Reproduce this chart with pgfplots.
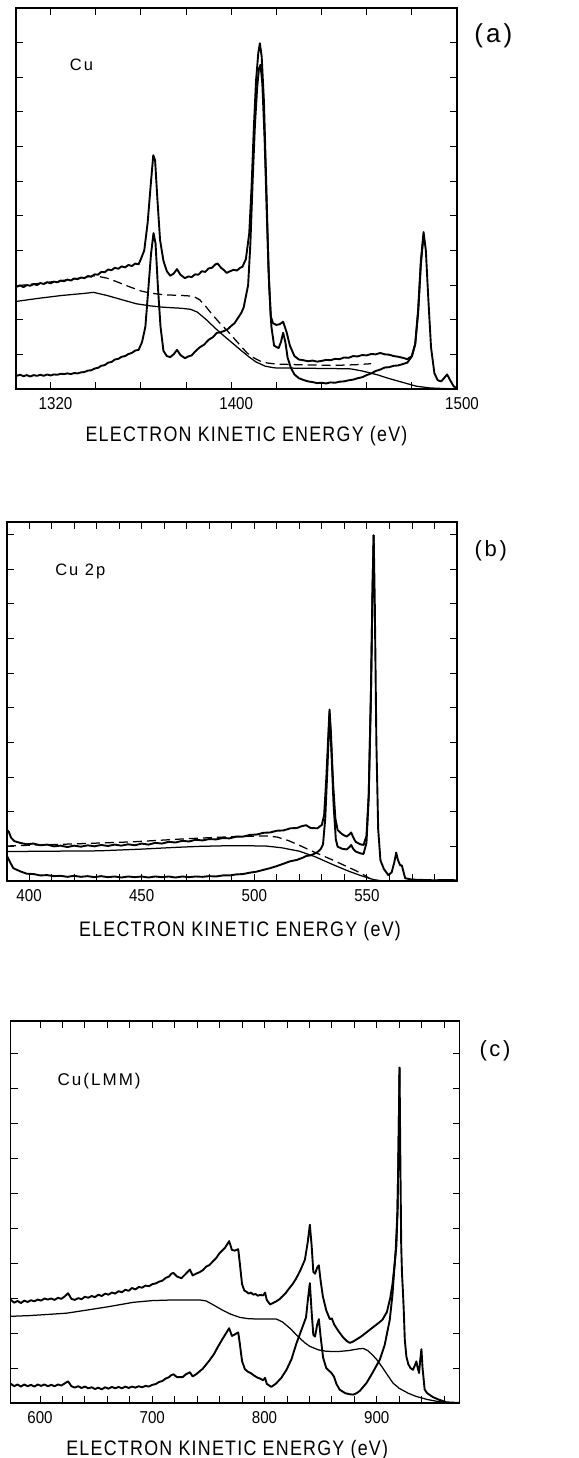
\documentclass[border=0pt]{standalone}
\usepackage{fontspec}
\setmainfont{Liberation Sans}
\newfontfamily\xlabfont[FakeStretch=0.85,LetterSpace=6]{Liberation Sans}
\newfontfamily\tickfont[FakeStretch=0.88]{Liberation Sans}
\newfontfamily\panfont[LetterSpace=12]{Liberation Sans}
\usepackage{pgfplots}
\pgfplotsset{compat=1.18}
\pgfplotsset{
  spec/.style={
    scale only axis,
    anchor=south west,
    ymin=0,
    ytick={1,2,3,4,5,6,7,8,9,10},
    yticklabels={},
    tick align=inside,
    xtick pos=both, ytick pos=both,
    major tick length=7pt, minor tick length=7pt,
    every tick/.style={black, line width=0.9pt},
    axis line style={line width=1.1pt},
    xticklabel style={font=\tickfont\fontsize{17.2}{18}\selectfont, anchor=north, inner sep=0pt, yshift=-8pt},
    xlabel style={font=\xlabfont\fontsize{21}{22}\selectfont, at={(axis description cs:0.5,0)}, anchor=base, inner sep=0pt},
    clip=false,
  },
  dat/.style={black, line width=1.9pt, line join=round},
  bg/.style={black, line width=1.25pt, line join=round},
  bgd/.style={black, line width=1.25pt, dash pattern=on 9pt off 5pt},
}
\begin{document}
\begin{tikzpicture}
\useasboundingbox (0pt,0pt) rectangle (578pt,1458pt);
% ---------------- (a) ----------------
\begin{axis}[spec,
  at={(16pt,1069pt)}, width=441pt, height=381pt,
  xmin=1304.7, xmax=1500, ymax=11,
  xtick={1320,1400,1500}, xticklabels={1320,1400,1500},
  minor xtick={1340,1360,1380,1420,1440,1460,1480},
  xticklabel style={xshift=5pt},
  xlabel={ELECTRON KINETIC ENERGY (eV)},
  xlabel style={xshift=10pt, yshift=-52.7pt},
]
\addplot[dat] coordinates {
(1305,2.95)(1306.5,2.99)(1308,2.94)(1309.5,3.00)(1311,2.98)(1312.5,3.03)(1314,3.00)(1315.5,3.06)(1317,3.03)(1318.5,3.08)
(1320,3.05)(1321.5,3.10)(1323,3.08)(1324.5,3.13)(1326,3.11)(1327.5,3.16)(1329,3.13)(1330.5,3.19)(1332,3.17)(1333.5,3.22)
(1335,3.20)(1336.5,3.26)(1338,3.24)(1339.5,3.31)(1341,3.30)(1342.5,3.38)(1344,3.37)(1345.5,3.45)(1347,3.43)(1348.5,3.50)
(1350,3.47)(1351.5,3.54)(1353,3.51)(1354.5,3.58)(1356,3.55)(1357.5,3.62)(1359,3.60)(1360,3.75)(1361.5,4.0)(1363,4.8)
(1364.5,6.0)(1365.5,6.75)(1366.3,6.6)(1367.3,5.5)(1368.5,4.3)(1370,3.7)(1371.5,3.4)(1373,3.27)(1374.5,3.33)(1376,3.46)
(1377.5,3.30)(1379.5,3.20)(1381,3.25)(1382.5,3.23)(1384,3.31)(1385.5,3.30)(1387,3.40)(1388.5,3.38)(1390,3.48)(1391.5,3.50)
(1393,3.60)(1394,3.62)(1395.5,3.50)(1397,3.42)(1398,3.35)(1399.5,3.40)(1401,3.44)(1402.5,3.42)(1404,3.50)(1405,3.53)
(1406.5,3.75)(1408,4.5)(1409,5.8)(1410,7.5)(1411,8.9)(1412,9.7)(1412.7,9.98)(1413.5,9.6)(1414.5,8.3)(1415.5,6.0)
(1416.5,3.5)(1417.5,2.1)(1418.5,1.9)(1420,1.85)(1421.5,1.87)(1423,1.94)(1424.5,1.65)(1426,1.25)(1428,0.95)(1430,0.85)
(1432,0.83)(1434,0.80)(1436,0.82)(1438,0.79)(1440,0.81)(1442,0.84)(1444,0.83)(1446,0.87)(1448,0.86)(1450,0.91)(1452,0.90)
(1454,0.95)(1456,0.94)(1458,0.98)(1460,0.97)(1462,1.01)(1464,1.00)(1466,1.04)(1468,1.00)(1470,0.99)(1472,0.95)(1474,0.93)
(1476,0.90)(1478,0.86)(1480,0.95)(1481.5,1.3)(1482.8,2.3)(1484,3.7)(1485.2,4.53)(1486.2,4.0)(1487.3,2.6)(1488.5,1.2)
(1490,0.45)(1491.5,0.25)(1493,0.22)(1494.5,0.33)(1495.6,0.42)(1497,0.25)(1498.5,0.08)(1500,0.02)};
\addplot[dat] coordinates {
(1305,0.38)(1306.5,0.41)(1308,0.37)(1309.5,0.40)(1311,0.36)(1312.5,0.40)(1314,0.38)(1315.5,0.41)(1317,0.38)(1318.5,0.42)
(1320,0.39)(1321.5,0.42)(1323,0.41)(1324.5,0.44)(1326,0.43)(1327.5,0.45)(1329,0.43)(1330.5,0.46)(1332,0.45)(1333.5,0.48)
(1335,0.49)(1336.5,0.53)(1338,0.54)(1339.5,0.59)(1341,0.61)(1342.5,0.67)(1344,0.69)(1345.5,0.76)(1347,0.78)(1348.5,0.85)
(1350,0.87)(1351.5,0.93)(1353,0.95)(1354.5,1.01)(1356,1.04)(1357.5,1.11)(1359,1.13)(1360.5,1.35)(1362,1.8)(1363.2,2.8)
(1364.5,3.9)(1365.6,4.5)(1366.5,4.2)(1367.5,3.0)(1368.7,1.8)(1370,1.1)(1371.5,0.95)(1373,0.92)(1374.5,1.0)(1376,1.13)
(1377.5,0.98)(1379.5,0.89)(1381,0.94)(1382.5,0.97)(1384,1.08)(1386,1.20)(1388,1.28)(1390,1.42)(1392,1.50)(1393.6,1.62)
(1395,1.63)(1397,1.68)(1398.5,1.73)(1400,1.82)(1401.5,1.90)(1403,2.05)(1404.5,2.20)(1405.5,2.35)(1407.5,3.0)(1408.5,4.2)
(1409.5,6.0)(1410.5,7.6)(1411.5,8.7)(1412.3,9.25)(1413,9.36)(1413.8,8.8)(1414.8,7.2)(1415.8,5.0)(1416.8,3.0)(1417.8,1.8)
(1419,1.25)(1421,1.18)(1422,1.35)(1423,1.62)(1424,1.35)(1425,0.9)(1426.5,0.6)(1428,0.42)(1430,0.31)(1432,0.26)(1434,0.22)
(1436,0.20)(1438,0.17)(1440,0.18)(1442,0.16)(1444,0.19)(1446,0.18)(1448,0.21)(1450,0.22)(1452,0.25)(1454,0.27)(1456,0.31)
(1458,0.34)(1460,0.40)(1462,0.45)(1464,0.52)(1466,0.56)(1468,0.62)(1470,0.63)(1472,0.67)(1474,0.68)(1476,0.72)(1478,0.76)
(1480,0.94)(1481.5,1.3)(1482.8,2.2)(1484,3.6)(1485.2,4.45)};
\addplot[bgd] coordinates {
(1305,2.98)(1315,3.05)(1325,3.13)(1335,3.22)(1339,3.27)(1342,3.24)(1345,3.20)(1350,3.08)(1355,2.95)(1360,2.83)(1364,2.77)
(1370,2.72)(1378,2.70)(1383,2.68)(1386,2.58)(1389,2.36)(1392,2.12)(1395,1.90)(1398,1.70)(1401,1.48)(1404,1.26)(1407,1.04)
(1410,0.90)(1413,0.80)(1416,0.75)(1420,0.72)(1430,0.70)(1445,0.68)(1455,0.70)(1462,0.73)};
\addplot[bg] coordinates {
(1305,2.53)(1315,2.62)(1325,2.70)(1335,2.76)(1339,2.79)(1345,2.70)(1352,2.57)(1358,2.46)(1364,2.40)(1370,2.36)(1378,2.33)
(1382,2.30)(1385,2.22)(1389,2.00)(1393,1.75)(1397,1.52)(1401,1.30)(1405,1.08)(1408,0.92)(1411,0.78)(1415,0.66)(1419,0.61)
(1430,0.60)(1445,0.59)(1453,0.58)(1458,0.52)(1464.7,0.41)(1470,0.30)(1476,0.19)(1482,0.08)(1488,0.03)(1495,0.01)(1500,0.0)};
\node[font=\panfont\fontsize{16.5}{17}\selectfont, anchor=base west, inner sep=0pt] at (rel axis cs:0.122,0.837) {Cu};
\end{axis}
\node[font=\panfont\fontsize{26}{27}\selectfont, anchor=center, inner sep=0pt] at (493.3pt,1422.2pt) {(a)};
% ---------------- (b) ----------------
\begin{axis}[spec,
  at={(7pt,577pt)}, width=450pt, height=359pt,
  xmin=390.2, xmax=590, ymax=10.36,
  xtick={400,450,500,550}, xticklabels={400,450,500,550},
  minor xtick={410,420,430,440,460,470,480,490,510,520,530,540,560,570,580},
  xlabel={ELECTRON KINETIC ENERGY (eV)},
  xlabel style={xshift=8pt, yshift=-55.7pt},
]
\addplot[dat] coordinates {
(390.2,1.47)(391,1.42)(392,1.25)(393.5,1.15)(396,1.10)(399,1.06)(402,1.08)(405,1.03)(408,1.05)(411,1.00)(414,1.02)(417,0.98)
(420,1.02)(423,0.99)(426,1.03)(429,1.00)(432,1.04)(435,1.01)(438,1.05)(441,1.02)(444,1.06)(447,1.03)(450,1.08)(453,1.05)
(456,1.10)(459,1.08)(462,1.13)(465,1.11)(468,1.16)(471,1.14)(474,1.19)(477,1.17)(480,1.21)(483,1.20)(486,1.24)(489,1.23)
(492,1.28)(495,1.28)(498,1.33)(501,1.34)(504,1.39)(507,1.40)(510,1.45)(513,1.46)(516,1.52)(519,1.53)(521,1.58)(523,1.61)
(525,1.53)(528,1.52)(530,1.62)(531,1.9)(532,3.0)(533,4.4)(533.4,4.95)(534,4.3)(535,2.8)(536,1.8)(537,1.47)(539,1.35)
(541,1.28)(542.3,1.35)(543,1.40)(544,1.25)(545,1.13)(547,1.06)(548.5,1.04)(549.8,1.3)(550.8,2.5)(551.8,5.5)(552.5,8.5)
(553,9.98)(553.5,8.0)(554.2,4.0)(555,1.5)(556,0.6)(557.5,0.35)(559.5,0.17)(561,0.25)(562.2,0.55)(563,0.82)(563.8,0.6)
(564.8,0.45)(565.5,0.45)(566.3,0.25)(567,0.08)(570,0.04)(575,0.03)(580,0.02)(585,0.03)(590,0.02)};
\addplot[dat] coordinates {
(390.2,0.72)(391.5,0.55)(393,0.37)(396,0.28)(399,0.21)(402,0.20)(405,0.16)(408,0.17)(411,0.14)(414,0.15)(417,0.12)(420,0.15)
(423,0.12)(426,0.14)(429,0.11)(432,0.14)(435,0.11)(438,0.13)(441,0.10)(444,0.13)(447,0.11)(450,0.13)(453,0.10)(456,0.13)
(459,0.11)(462,0.13)(465,0.10)(468,0.13)(471,0.11)(474,0.13)(477,0.12)(480,0.14)(483,0.13)(486,0.16)(489,0.16)(492,0.19)
(495,0.20)(498,0.24)(501,0.27)(504,0.32)(507,0.37)(510,0.43)(513,0.50)(516,0.57)(519,0.61)(521.8,0.68)(523,0.72)(525,0.74)
(527.8,0.82)(529.5,0.92)(530.5,1.05)(531.5,1.8)(532.5,3.3)(533.4,4.84)(534.2,3.8)(535.2,2.2)(536.2,1.2)(537,0.99)(539,0.93)
(541,0.91)(542.3,0.98)(543,1.04)(544,0.92)(545,0.85)(547,0.80)(548.5,0.78)(549.8,1.1)(550.8,2.4)(551.8,5.4)(552.5,8.4)(553,9.98)};
\addplot[bgd] coordinates {
(390.2,1.01)(400,1.03)(420,1.07)(446,1.13)(470,1.22)(490.7,1.28)(505,1.30)(510,1.27)(515,1.17)(520,1.03)(525,0.88)
(530,0.74)(535,0.60)(540,0.45)(545,0.30)(548,0.20)(551,0.08)(553,0.02)};
\addplot[bg] coordinates {
(390.2,0.85)(410,0.86)(431,0.87)(450,0.92)(465,0.97)(476,1.00)(490,1.02)(505,1.01)(512,0.96)(520,0.86)(527,0.70)
(535,0.47)(542,0.28)(548,0.14)(553,0.04)(557,0.0)};
\node[font=\panfont\fontsize{16.5}{17}\selectfont, anchor=base west, inner sep=0pt] at (rel axis cs:0.107,0.850) {Cu 2p};
\end{axis}
\node[font=\panfont\fontsize{22}{23}\selectfont, anchor=center, inner sep=0pt] at (490.8pt,907.2pt) {(b)};
% ---------------- (c) ----------------
\begin{axis}[spec,
  at={(10.7pt,55pt)}, width=449pt, height=382pt,
  xmin=573.9, xmax=973.9, ymax=10.93,
  xtick={600,700,800,900}, xticklabels={600,700,800,900},
  minor xtick={620,640,660,680,720,740,760,780,820,840,860,880,920,940,960},
  xlabel={ELECTRON KINETIC ENERGY (eV)},
  xlabel style={xshift=-8pt, yshift=-52pt},
]
\addplot[dat] coordinates {
(574,2.95)(577,2.87)(580,2.92)(583,2.86)(586,2.93)(589,2.89)(592,2.94)(595,2.91)(598,2.96)(601,2.93)(604,2.99)(607,2.96)
(610,2.99)(613,2.95)(616,3.01)(619,2.98)(622,3.05)(625,3.14)(628,2.98)(631,2.95)(634,3.00)(637,2.97)(640,3.04)(643,3.01)
(646,3.06)(649,3.03)(652,3.10)(655,3.06)(658,3.13)(661,3.10)(664,3.16)(667,3.13)(670,3.20)(673,3.17)(676,3.24)(679,3.21)
(682,3.29)(685,3.25)(688,3.32)(691,3.30)(694,3.36)(697,3.34)(700,3.40)(703,3.42)(706,3.47)(709,3.50)(712,3.58)(715,3.62)
(717,3.70)(719,3.72)(722,3.62)(726,3.57)(730,3.70)(733.5,3.82)(736,3.65)(739,3.70)(742,3.74)(745,3.80)(748,3.90)(751,3.95)
(754,4.05)(757,4.15)(760,4.29)(765,4.45)(768.5,4.63)(771,4.38)(773.5,4.36)(776.6,4.40)(778,4.0)(780,3.40)(782,3.22)
(784,3.18)(786,3.13)(788,3.16)(790,3.10)(792,3.12)(794,3.07)(796,3.09)(798.8,3.08)(800.5,3.16)(802,2.95)(805,2.82)(810,2.90)
(813,2.96)(816,3.05)(819,3.15)(822,3.28)(825,3.40)(828,3.55)(832,3.80)(836,4.10)(838.5,4.6)(840.4,5.10)(842,4.5)(843.5,3.75)
(845,3.70)(847,3.88)(848.4,3.94)(850,3.5)(852,3.05)(855,2.65)(858.2,2.40)(860,2.42)(862,2.25)(866,2.05)(870,1.88)(873,1.78)
(876,1.72)(879,1.76)(882,1.82)(886,1.90)(890,2.00)(894,2.10)(898,2.20)(902,2.30)(905,2.38)(909,2.60)(912,3.0)(914,3.4)
(916,4.0)(917.5,4.5)(918.5,5.5)(919.5,7.5)(920.3,9.6)(921,7.0)(921.8,4.5)(922.5,3.7)(923.3,3.2)(924,2.7)(925,1.8)
(926.4,1.33)(928,1.12)(930,1.00)(932.3,0.95)(934,1.08)(935.3,1.19)(936.5,1.0)(937.7,0.86)(938.8,1.25)(939.8,1.54)
(940.8,1.0)(942.7,0.38)(945,0.28)(950,0.17)(955,0.10)(962,0.02)(974,0.0)};
\addplot[dat] coordinates {
(574,0.55)(577,0.48)(580,0.53)(583,0.47)(586,0.53)(589,0.48)(592,0.52)(595,0.47)(598,0.53)(601,0.49)(604,0.53)(607,0.48)
(610,0.52)(613,0.48)(616,0.53)(619,0.50)(622,0.56)(625,0.62)(628,0.48)(631,0.44)(634,0.48)(637,0.43)(640,0.47)(643,0.42)
(646,0.45)(649,0.40)(652,0.44)(655,0.39)(658,0.45)(661,0.41)(664,0.46)(667,0.42)(670,0.46)(673,0.42)(676,0.47)(679,0.43)
(682,0.47)(685,0.44)(688,0.48)(691,0.45)(694,0.49)(697,0.47)(700,0.52)(703,0.54)(706,0.60)(709,0.63)(712,0.70)(715,0.74)
(717,0.80)(719,0.82)(722,0.74)(727,0.74)(730,0.82)(733.5,0.88)(736,0.76)(739,0.82)(742,0.90)(745,0.98)(748,1.10)(751,1.22)
(755,1.40)(758,1.58)(762,1.80)(768.5,2.14)(771,1.92)(773.5,1.96)(776.6,2.02)(778,1.70)(780,1.20)(782.5,0.97)(785,0.90)
(788,0.85)(791,0.78)(794,0.72)(796,0.70)(798.8,0.65)(800.5,0.72)(802,0.55)(806,0.46)(810,0.55)(815,0.72)(819.6,0.95)
(824,1.25)(828.5,1.71)(833,2.10)(837,2.45)(838.8,3.0)(840.4,3.43)(842,2.6)(843.5,1.95)(845,1.90)(847,2.25)(848.4,2.40)
(850,1.90)(852.2,1.30)(855,1.00)(859.6,0.86)(862,0.75)(864,0.55)(867,0.38)(872,0.28)(876,0.25)(879,0.24)(882,0.28)
(885,0.35)(890.8,0.57)(896,0.85)(902.7,1.24)(907,1.65)(911.6,2.38)(914,3.1)(916.9,4.38)(918.5,5.5)(919.5,7.5)(920.3,9.6)};
\addplot[bg] coordinates {
(574,2.48)(590,2.50)(610,2.54)(623.7,2.57)(640,2.65)(660,2.75)(683,2.88)(700,2.93)(720,2.95)(742,2.95)(748,2.92)(752,2.85)
(757,2.76)(763,2.65)(770,2.54)(778,2.45)(786,2.41)(800,2.40)(810.7,2.40)(816,2.32)(822.6,2.14)(830,1.90)(836,1.72)
(840.4,1.62)(848,1.52)(855,1.48)(865,1.47)(875,1.50)(884,1.55)(888,1.56)(892,1.50)(897,1.35)(900,1.24)(905,1.02)
(910,0.78)(914.5,0.57)(920,0.42)(928,0.28)(935,0.19)(945,0.10)(955,0.04)(962,0.01)(970,0.0)};
\node[font=\panfont\fontsize{17}{18}\selectfont, anchor=base west, inner sep=0pt] at (rel axis cs:0.104,0.830) {Cu(LMM)};
\end{axis}
\node[font=\panfont\fontsize{22}{23}\selectfont, anchor=center, inner sep=0pt] at (495pt,407.2pt) {(c)};
\end{tikzpicture}
\end{document}
